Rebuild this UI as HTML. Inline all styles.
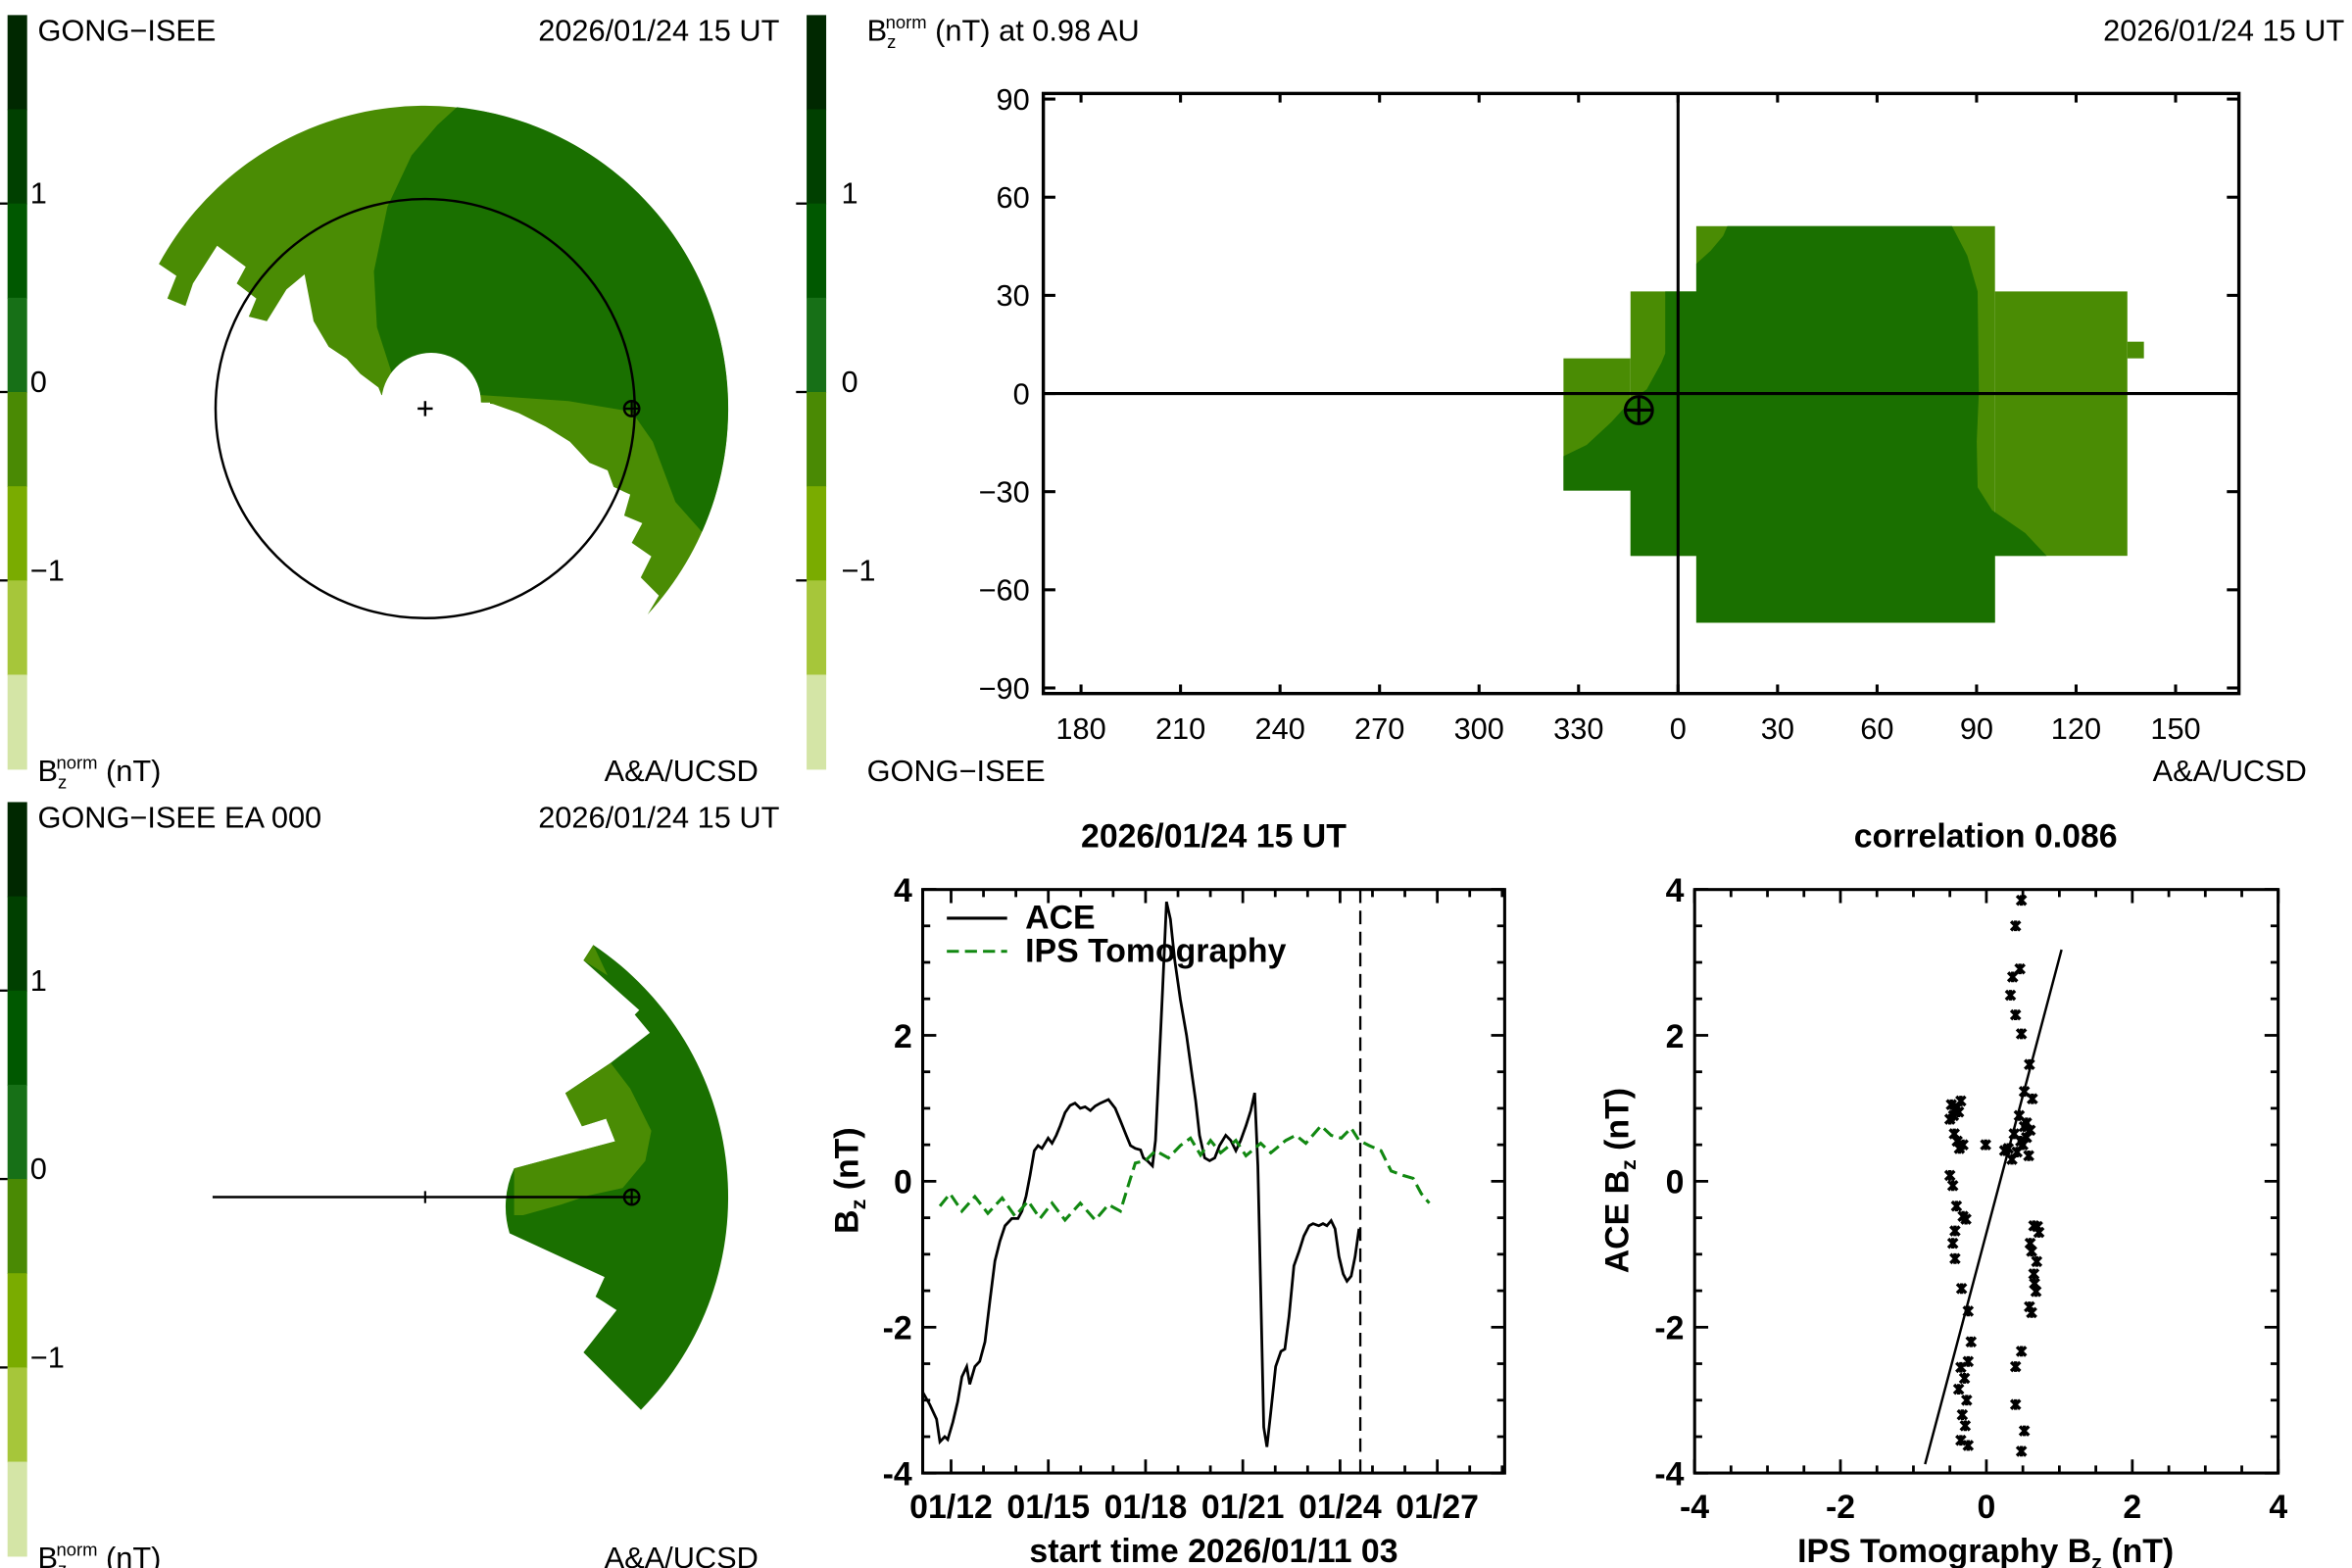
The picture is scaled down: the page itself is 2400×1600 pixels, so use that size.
<!DOCTYPE html>
<html><head><meta charset="utf-8"><style>
html,body{margin:0;padding:0;background:#fff;overflow:hidden}
svg{display:block}
.t{font-family:"Liberation Sans",sans-serif;font-size:20px;fill:#000}
.b{font-family:"Liberation Sans Narrow","Liberation Sans",sans-serif;font-weight:bold;font-size:22px;fill:#000}
</style></head><body>
<svg id="root" width="2400" height="1600" viewBox="0 0 1560 1040" xmlns="http://www.w3.org/2000/svg">
<g id="g-tl"></g>
<g id="g-bl"></g>
<g id="g-tr"></g>
<g id="g-ts"></g>
<g id="g-sc"></g>
</svg>
<script>
// ---- data: time series (days since 2026/01/11 03 UT) ----
const aceDays=[0,0.22,0.43,0.53,0.68,0.77,0.93,1.08,1.21,1.36,1.45,1.61,1.76,1.92,2.07,2.23,2.38,2.54,2.75,2.94,3.06,3.19,3.31,3.44,3.56,3.68,3.87,3.99,4.12,4.24,4.39,4.55,4.70,4.86,5.01,5.17,5.32,5.48,5.73,5.94,6.10,6.28,6.41,6.56,6.72,6.81,6.93,7.09,7.18,7.27,7.40,7.52,7.64,7.77,7.95,8.14,8.29,8.42,8.54,8.70,8.85,9.01,9.16,9.35,9.50,9.66,9.81,9.97,10.12,10.24,10.34,10.43,10.52,10.62,10.74,10.89,11.05,11.17,11.30,11.45,11.61,11.76,11.92,12.04,12.22,12.35,12.47,12.60,12.72,12.84,12.97,13.09,13.22,13.34,13.46];
const aceBz=[-2.89,-3.06,-3.26,-3.57,-3.50,-3.54,-3.30,-3.02,-2.68,-2.54,-2.78,-2.54,-2.47,-2.20,-1.65,-1.09,-0.82,-0.61,-0.51,-0.51,-0.41,-0.20,0.08,0.42,0.49,0.45,0.59,0.52,0.63,0.76,0.94,1.04,1.07,1.00,1.02,0.97,1.03,1.07,1.12,1.00,0.83,0.63,0.49,0.45,0.43,0.32,0.28,0.21,0.56,1.38,2.62,3.83,3.59,3.04,2.49,2.00,1.52,1.11,0.63,0.32,0.28,0.32,0.49,0.63,0.56,0.42,0.56,0.76,0.97,1.21,0.21,-1.51,-3.37,-3.64,-3.16,-2.54,-2.33,-2.30,-1.85,-1.16,-0.96,-0.75,-0.61,-0.58,-0.61,-0.58,-0.61,-0.54,-0.65,-1.03,-1.27,-1.37,-1.30,-1.03,-0.65];
const ipsDays=[0.53,0.84,1.21,1.61,2.01,2.45,2.85,3.25,3.62,3.99,4.39,4.86,5.32,5.73,6.10,6.34,6.56,6.87,7.18,7.58,7.95,8.26,8.57,8.88,9.19,9.66,9.97,10.43,10.74,11.20,11.51,11.82,12.29,12.60,12.91,13.22,13.46,13.77,14.14,14.45,14.82,15.13,15.38,15.63];
const ipsBz=[-0.34,-0.17,-0.41,-0.21,-0.44,-0.23,-0.48,-0.27,-0.51,-0.30,-0.53,-0.30,-0.53,-0.32,-0.41,-0.06,0.25,0.28,0.42,0.32,0.49,0.59,0.36,0.56,0.39,0.56,0.35,0.52,0.39,0.56,0.63,0.52,0.76,0.63,0.59,0.73,0.56,0.49,0.42,0.14,0.08,0.04,-0.17,-0.30];
const nowDay=13.5;
const tsXTickDays=[0.875,3.875,6.875,9.875,12.875,15.875];
const tsXTickLabels=["01/12","01/15","01/18","01/21","01/24","01/27"];
const yTicks=[-4,-2,0,2,4];
// ---- data: scatter ----
const scIps=[0.48,0.40,0.46,0.36,0.33,0.40,0.48,0.59,0.52,0.63,0.45,0.52,0.38,0.55,0.60,0.30,0.42,0.50,0.35,0.58,0.25,0.47,0.55,-0.01,-0.48,-0.42,-0.38,-0.50,-0.35,-0.45,-0.40,-0.32,-0.44,-0.37,-0.50,-0.46,-0.41,-0.32,-0.28,-0.43,-0.46,-0.43,-0.34,-0.25,-0.21,-0.25,-0.35,-0.30,-0.38,-0.27,-0.33,-0.29,-0.35,-0.25,0.65,0.70,0.62,0.69,0.65,0.68,0.59,0.62,0.48,0.40,0.40,0.52,0.48,0.72,0.60,0.66];
const scAce=[3.85,3.50,2.91,2.80,2.55,2.28,2.02,1.60,1.23,1.13,0.90,0.75,0.65,0.60,0.70,0.45,0.40,0.50,0.30,0.35,0.42,0.55,0.80,0.50,1.05,1.00,0.95,0.85,1.10,0.90,0.55,0.50,0.65,0.45,0.08,-0.06,-0.34,-0.48,-0.52,-0.68,-0.85,-1.06,-1.47,-1.78,-2.20,-2.47,-2.55,-2.70,-2.85,-3.00,-3.20,-3.35,-3.55,-3.62,-0.61,-0.62,-0.96,-1.10,-1.27,-1.51,-1.72,-1.80,-2.33,-2.54,-3.06,-3.42,-3.70,-0.70,-0.85,-1.40];
const fitSlope=3.77, fitIntercept=-0.71;
const scXTicks=[-4,-2,0,2,4];
// ---- data: sky map ----
const skyYTicks=[90,60,30,0,-30,-60,-90];
const skyYLabels=["90","60","30","0","\u221230","\u221260","\u221290"];
const skyXTicks=[-180,-150,-120,-90,-60,-30,0,30,60,90,120,150];
const skyXLabels=["180","210","240","270","300","330","0","30","60","90","120","150"];
const cbColors=['#002800','#004000','#005800','#177017','#4a8a04','#7aac00','#a6c63a','#d4e5a6'];

const NS='http://www.w3.org/2000/svg';
const LIGHT='#4a8c04', DARK='#1a7000';
function mk(p,tag,a,txt){const e=document.createElementNS(NS,tag);for(const k in a)e.setAttribute(k,a[k]);if(txt!=null)e.textContent=txt;p.appendChild(e);return e;}
function pol(cx,cy,r,deg){const a=deg*Math.PI/180;return [cx+r*Math.cos(a),cy+r*Math.sin(a)];}
function arc(cx,cy,r,a0,a1){const p0=pol(cx,cy,r,a0),p1=pol(cx,cy,r,a1);const large=(a1-a0)>180?1:0;
  return {start:p0, d:`A${r},${r} 0 ${large} 1 ${p1[0].toFixed(1)},${p1[1].toFixed(1)}`};}

function colorbar(g,x,y0,labX){
  const h=62.5;
  cbColors.forEach((c,i)=>{const r=mk(g,'rect',{x:x,y:y0+i*h,width:13,height:h+0.5,fill:c});
    
    });
  [['1',2],['0',4],['\u22121',6]].forEach(([l,i])=>{
    const ty=y0+i*h;
    mk(g,'line',{x1:x-7,y1:ty,x2:x,y2:ty,stroke:'#000','stroke-width':1.5});
    const t=mk(g,'text',{x:labX,y:ty,class:'t'},l);
    
    
  });
}
function earth(g,x,y){
  mk(g,'circle',{cx:x,cy:y,r:5,fill:'none',stroke:'#000','stroke-width':1.6});
  mk(g,'line',{x1:x-5,y1:y,x2:x+5,y2:y,stroke:'#000','stroke-width':1.4});
  mk(g,'line',{x1:x,y1:y-5,x2:x,y2:y+5,stroke:'#000','stroke-width':1.4});
}
function pts(a){return a.map(p=>p[0].toFixed(1)+','+p[1].toFixed(1)).join(' ');}

// ---------- top-left ----------
(function(){
  const g=document.getElementById('g-tl');
  colorbar(g,5,10,20);
  const cx=282,cy=271,R=201;
  const a1=arc(cx,cy,R,-151.5,42.8);
  mk(g,'path',{d:`M${a1.start[0]},${a1.start[1]} ${a1.d} L437,395 L425,383 L432,369 L419,360 L426,347 L414,342 L418,328 L407,323 L403,312 L391,307 L378,293 L362,283 L344,274 L327,268 L319,267 L286,262 L253,262 L251,257 L239,248 L230,238 L218,230 L208,213 L202,182 L190,192 L177,213 L165,210 L170,198 L157,188 L163,177 L144,163 L128,188 L123,203 L111,198 L117,183 Z`,fill:LIGHT});
  const a2=arc(cx,cy,R,-84,24);
  mk(g,'path',{d:`M${a2.start[0]},${a2.start[1]} ${a2.d} L448,333 L433,293 L419,273 L377,266 L319,262 L260,248 L250,217 L248,180 L257,137 L273,103 L290,83 Z`,fill:DARK});
  mk(g,'circle',{cx:286,cy:267,r:33,fill:'#fff'});
  mk(g,'rect',{x:250,y:267,width:75,height:12,fill:'#fff'});
  const orb=mk(g,'circle',{cx:cx,cy:cy,r:139,fill:'none',stroke:'#000','stroke-width':1.6});
  
  
  mk(g,'line',{x1:cx-5,y1:cy,x2:cx+5,y2:cy,stroke:'#000','stroke-width':1.6});
  mk(g,'line',{x1:cx,y1:cy-5,x2:cx,y2:cy+5,stroke:'#000','stroke-width':1.6});
  earth(g,419,271);
  mk(g,'text',{x:25,y:27,class:'t'},'GONG\u2212ISEE');
  mk(g,'text',{x:517,y:27,class:'t','text-anchor':'end'},'2026/01/24  15  UT');
  const f=mk(g,'text',{x:25,y:518,class:'t'});
  f.innerHTML='B<tspan font-size="12" dy="5">z</tspan><tspan font-size="12" dy="-13" dx="-7">norm</tspan><tspan dy="8"> (nT)</tspan>';
  mk(g,'text',{x:503,y:518,class:'t','text-anchor':'end'},'A&A/UCSD');
})();

// ---------- bottom-left ----------
(function(){
  const g=document.getElementById('g-bl');
  colorbar(g,5,532,20);
  const a=arc(282,794,201,-56.3,44.6);
  mk(g,'path',{d:`M${a.start[0]},${a.start[1]} ${a.d} L387,897 L409,869 L395,860 L401,847 L338,818 A60,60 0 0 1 341,775 L408,757 L402,742 L386,747 L375,725 L405,705 L431,685 L421,673 L424,670 L387,637 Z`,fill:DARK});
  mk(g,'path',{d:`M${a.start[0]},${a.start[1]} L403,647 L387,637 Z`,fill:LIGHT});
  mk(g,'path',{d:'M341,775 L408,757 L402,742 L386,747 L375,725 L405,705 L418,722 L432,750 L428,770 L413,788 L390,793 L372,799 L347,806 L341,806 Z',fill:LIGHT});
  mk(g,'line',{x1:141,y1:794,x2:419,y2:794,stroke:'#000','stroke-width':1.6});
  mk(g,'line',{x1:282,y1:790,x2:282,y2:798,stroke:'#000','stroke-width':1.4});
  earth(g,419,794);
  mk(g,'text',{x:25,y:549,class:'t'},'GONG\u2212ISEE EA 000');
  mk(g,'text',{x:517,y:549,class:'t','text-anchor':'end'},'2026/01/24  15  UT');
  const f=mk(g,'text',{x:25,y:1040,class:'t'});
  f.innerHTML='B<tspan font-size="12" dy="5">z</tspan><tspan font-size="12" dy="-13" dx="-7">norm</tspan><tspan dy="8"> (nT)</tspan>';
  mk(g,'text',{x:503,y:1040,class:'t','text-anchor':'end'},'A&A/UCSD');
})();

// ---------- top-right sky map ----------
(function(){
  const g=document.getElementById('g-tr');
  colorbar(g,535,10,558);
  const L=692,R=1485,T=62,B=460;
  const sx=lon=>1113+lon*2.2, sy=lat=>261-lat*2.17;
  const zx=v=>1037+(v-64)*0.2744, zy=v=>150+(v-90)*0.2165;
  [[64,495,226,900],[226,290,385,1100],[385,90,1107,1305],[1107,290,1427,1100],[1427,444,1467,495]].forEach(r=>{
    mk(g,'rect',{x:zx(r[0]),y:zy(r[1]),width:zx(r[2])-zx(r[0]),height:zy(r[3])-zy(r[1]),fill:LIGHT});});
  const dk=[[460,90],[1003,90],[1040,180],[1065,290],[1068,600],[1063,750],[1065,890],[1100,960],[1180,1030],[1232,1100],[1107,1100],[1107,1305],[385,1305],[385,1100],[226,1100],[226,900],[64,900],[64,795],[120,760],[180,690],[230,620],[265,590],[300,510],[310,480],[310,290],[385,290],[385,205],[420,165],[450,120]];
  mk(g,'polygon',{points:pts(dk.map(p=>[zx(p[0]),zy(p[1])])),fill:DARK});
  mk(g,'line',{x1:L,y1:sy(0),x2:R,y2:sy(0),stroke:'#000','stroke-width':2});
  mk(g,'line',{x1:sx(0),y1:T,x2:sx(0),y2:B,stroke:'#000','stroke-width':2});
  const fr=mk(g,'rect',{x:L,y:T,width:R-L,height:B-T,fill:'none',stroke:'#000','stroke-width':2.2});
  
  
  skyYTicks.forEach((v,i)=>{const y=sy(v);
    mk(g,'line',{x1:L,y1:y,x2:L+8,y2:y,stroke:'#000','stroke-width':2});
    mk(g,'line',{x1:R-8,y1:y,x2:R,y2:y,stroke:'#000','stroke-width':2});
    const t=mk(g,'text',{x:683,y:y+7,class:'t','text-anchor':'end'},skyYLabels[i]);
    
    });
  skyXTicks.forEach((v,i)=>{const x=sx(v);
    mk(g,'line',{x1:x,y1:B-6,x2:x,y2:B,stroke:'#000','stroke-width':2});
    mk(g,'line',{x1:x,y1:T,x2:x,y2:T+6,stroke:'#000','stroke-width':2});
    const t=mk(g,'text',{x:x,y:490,class:'t','text-anchor':'middle'},skyXLabels[i]);
    
    });
  mk(g,'circle',{cx:1087,cy:272,r:9,fill:'none',stroke:'#000','stroke-width':2});
  mk(g,'line',{x1:1078,y1:272,x2:1096,y2:272,stroke:'#000','stroke-width':2});
  mk(g,'line',{x1:1087,y1:263,x2:1087,y2:281,stroke:'#000','stroke-width':2});
  const h=mk(g,'text',{x:575,y:27,class:'t'});
  h.innerHTML='B<tspan font-size="12" dy="5">z</tspan><tspan font-size="12" dy="-13" dx="-7">norm</tspan><tspan dy="8"> (nT)  at  0.98  AU</tspan>';
  mk(g,'text',{x:1555,y:27,class:'t','text-anchor':'end'},'2026/01/24  15  UT');
  mk(g,'text',{x:575,y:518,class:'t'},'GONG\u2212ISEE');
  mk(g,'text',{x:1530,y:518,class:'t','text-anchor':'end'},'A&A/UCSD');
})();

// ---------- time series ----------
(function(){
  const g=document.getElementById('g-ts');
  const L=612,R=998,T=590,B=977;
  const x=d=>L+d*21.5, y=v=>783.5-v*48.4;
  mk(g,'line',{x1:x(nowDay),y1:T,x2:x(nowDay),y2:B,stroke:'#000','stroke-width':1.5,'stroke-dasharray':'9,5'});
  const ace=mk(g,'polyline',{points:pts(aceDays.map((d,i)=>[x(d),y(aceBz[i])])),fill:'none',stroke:'#000','stroke-width':1.8});
  
  
  const ips=mk(g,'polyline',{points:pts(ipsDays.map((d,i)=>[x(d),y(ipsBz[i])])),fill:'none',stroke:'#118811','stroke-width':2,'stroke-dasharray':'8,4'});
  
  
  mk(g,'rect',{x:L,y:T,width:R-L,height:B-T,fill:'none',stroke:'#000','stroke-width':2});
  for(let v=-4;v<=4;v+=0.5){const yy=y(v),len=(v%2===0)?9:5;
    mk(g,'line',{x1:L,y1:yy,x2:L+len,y2:yy,stroke:'#000','stroke-width':1.8});
    mk(g,'line',{x1:R-len,y1:yy,x2:R,y2:yy,stroke:'#000','stroke-width':1.8});}
  yTicks.forEach(v=>{const t=mk(g,'text',{x:605,y:y(v)+8,class:'b','text-anchor':'end'},String(v));
    
    });
  for(let d=0.875;d<18;d+=1){const xx=x(d),len=((Math.round(d-0.875))%3===0)?9:5;
    mk(g,'line',{x1:xx,y1:B-len,x2:xx,y2:B,stroke:'#000','stroke-width':1.8});
    mk(g,'line',{x1:xx,y1:T,x2:xx,y2:T+len,stroke:'#000','stroke-width':1.8});}
  tsXTickDays.forEach((d,i)=>{const t=mk(g,'text',{x:x(d),y:1007,class:'b','text-anchor':'middle'},tsXTickLabels[i]);
    
    });
  mk(g,'text',{x:805,y:562,class:'b','text-anchor':'middle'},'2026/01/24 15 UT');
  mk(g,'text',{x:805,y:1036,class:'b','text-anchor':'middle'},'start time 2026/01/11 03');
  const yl=mk(g,'text',{x:0,y:0,class:'b','text-anchor':'middle',transform:'translate(569,783) rotate(-90)'});
  yl.innerHTML='B<tspan font-size="14" dy="5">z</tspan><tspan dy="-5"> (nT)</tspan>';
  mk(g,'line',{x1:628,y1:609,x2:668,y2:609,stroke:'#000','stroke-width':2});
  mk(g,'text',{x:680,y:616,class:'b','font-size':'20'},'ACE');
  mk(g,'line',{x1:628,y1:631,x2:668,y2:631,stroke:'#118811','stroke-width':2,'stroke-dasharray':'8,4'});
  mk(g,'text',{x:680,y:638,class:'b','font-size':'20'},'IPS Tomography');
})();

// ---------- scatter ----------
(function(){
  const g=document.getElementById('g-sc');
  const L=1124,R=1511,T=590,B=977;
  const x=v=>1317.5+v*48.4, y=v=>783.5-v*48.4;
  mk(g,'rect',{x:L,y:T,width:R-L,height:B-T,fill:'none',stroke:'#000','stroke-width':2});
  for(let v=-4;v<=4;v+=0.5){const len=(v%2===0)?9:5;
    mk(g,'line',{x1:L,y1:y(v),x2:L+len,y2:y(v),stroke:'#000','stroke-width':1.8});
    mk(g,'line',{x1:R-len,y1:y(v),x2:R,y2:y(v),stroke:'#000','stroke-width':1.8});
    mk(g,'line',{x1:x(v),y1:B-len,x2:x(v),y2:B,stroke:'#000','stroke-width':1.8});
    mk(g,'line',{x1:x(v),y1:T,x2:x(v),y2:T+len,stroke:'#000','stroke-width':1.8});}
  yTicks.forEach(v=>{const t=mk(g,'text',{x:1117,y:y(v)+8,class:'b','text-anchor':'end'},String(v));
    
    });
  scXTicks.forEach(v=>{const t=mk(g,'text',{x:x(v),y:1007,class:'b','text-anchor':'middle'},String(v));
    
    });
  const x0=-0.84,x1=1.03;
  const fl=mk(g,'line',{x1:x(x0),y1:y(fitSlope*x0+fitIntercept),x2:x(x1),y2:y(fitSlope*x1+fitIntercept),stroke:'#000','stroke-width':1.6});
  
  
  scIps.forEach((v,i)=>{const px=x(v),py=y(scAce[i]);
    const s=mk(g,'path',{d:`M${px-3},${py-3}L${px+3},${py+3}M${px-3},${py+3}L${px+3},${py-3}M${px},${py-3.5}L${px},${py+3.5}`,stroke:'#000','stroke-width':2.2});
    
    });
  mk(g,'text',{x:1317,y:562,class:'b','text-anchor':'middle'},'correlation 0.086');
  const xl=mk(g,'text',{x:1317,y:1036,class:'b','text-anchor':'middle'});
  xl.innerHTML='IPS Tomography B<tspan font-size="14" dy="5">z</tspan><tspan dy="-5"> (nT)</tspan>';
  const yl=mk(g,'text',{x:0,y:0,class:'b','text-anchor':'middle',transform:'translate(1080,783) rotate(-90)'});
  yl.innerHTML='ACE B<tspan font-size="14" dy="5">z</tspan><tspan dy="-5"> (nT)</tspan>';
})();
</script>
</body></html>
